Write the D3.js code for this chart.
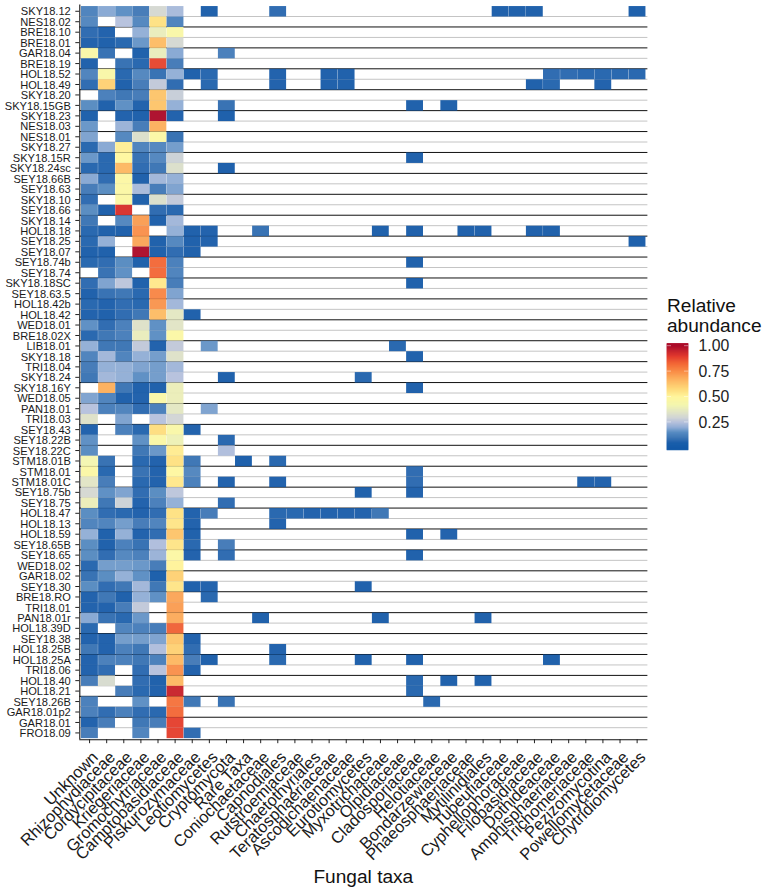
<!DOCTYPE html>
<html><head><meta charset="utf-8">
<script src="https://cdn.jsdelivr.net/npm/d3@7"></script>
<style>html,body{margin:0;padding:0;background:#fff}svg{display:block}text{font-family:"Liberation Sans",Arial,sans-serif}</style>
</head><body><svg id="c" width="767" height="892"></svg>
<script>
const samples=["SKY18.12","NES18.02","BRE18.10","BRE18.01","GAR18.04","BRE18.19","HOL18.52","HOL18.49","SKY18.20","SKY18.15GB","SKY18.23","NES18.03","NES18.01","SKY18.27","SKY18.15R","SKY18.24sc","SEY18.66B","SEY18.63","SKY18.10","SEY18.66","SKY18.14","HOL18.18","SEY18.25","SEY18.07","SEY18.74b","SEY18.74","SKY18.18SC","SEY18.63.5","HOL18.42b","HOL18.42","WED18.01","BRE18.02X","LIB18.01","SKY18.18","TRI18.04","SKY18.24","SKY18.16Y","WED18.05","PAN18.01","TRI18.03","SEY18.43","SEY18.22B","SEY18.22C","STM18.01B","STM18.01","STM18.01C","SEY18.75b","SEY18.75","HOL18.47","HOL18.13","HOL18.59","SEY18.65B","SEY18.65","WED18.02","GAR18.02","SEY18.30","BRE18.RO","TRI18.01","PAN18.01r","HOL18.39D","SEY18.38","HOL18.25B","HOL18.25A","TRI18.06","HOL18.40","HOL18.21","SEY18.26B","GAR18.01p2","GAR18.01","FRO18.09"];
const taxa=["Unknown","Rhizophydiaceae","Cordycipitaceae","Kriegeriaceae","Gromochytriaceae","Camptobasidiaceae","Piskurozymaceae","Leotiomycetes","Cryptomycota","Rare Taxa","Coniochaetaceae","Capnodiales","Rutstroemiaceae","Chaetothyriales","Teratosphaeriaceae","Ascodichaenaceae","Eurotiomycetes","Myxotrichaceae","Olpidiaceae","Cladosporiaceae","Helotiaceae","Bondarzewiaceae","Phaeosphaeriaceae","Mytilinidiales","Tubeufiaceae","Cyphellophoraceae","Filobasidiaceae","Dothideaceae","Amphisphaeriaceae","Trichomeriaceae","Pezizomycotina","Powellomycetaceae","Chytridiomycetes"];
// first six taxa, one row per sample (null = absent)
const coreValues=[
[.12,.19,.15,.10,.31,.23],[.13,null,.25,.13,.56,.12],[.07,.05,null,.20,.38,.46],[.05,.04,.06,.16,.65,.31],[.46,.08,null,.04,.38,.19],
[.04,null,.08,.06,.88,.10],[.12,.46,.06,.13,.08,.20],[.07,.60,.04,.10,.27,.07],[null,.11,.09,.10,.63,.28],[.14,.04,.15,.05,.63,.20],
[.04,null,.05,.04,1.0,.05],[.16,null,.21,.10,.68,null],[.18,null,.13,.33,.47,.08],[.06,.19,.52,.12,.13,.17],[.16,.06,.50,.08,.13,.29],
[.06,.06,.66,.07,.09,.33],[.19,.07,.48,.04,.22,.20],[.10,.14,.47,.23,.10,.18],[.07,null,.47,.04,.33,.27],[.14,.04,.92,null,.07,.06],
[.09,null,.13,.72,.04,.22],[.06,.04,.04,.75,null,.20],[.06,.20,null,.70,.04,.13],[.04,.04,null,1.0,.04,.07],[.06,.07,.14,.04,.83,.11],
[null,.08,.15,null,.83,.12],[.07,.18,.26,.04,.54,.10],[.04,.08,.09,.06,.77,.18],[.06,.05,.07,.06,.74,.22],[.05,.04,.07,.09,.65,.36],
[.15,.07,.11,.34,.15,.35],[.06,.09,.11,.38,.15,.47],[.20,.09,.09,.27,.05,.27],[.12,.22,.12,.20,.17,.34],[.10,.20,.20,.18,.17,.22],
[.09,.22,.20,.15,.17,.25],[null,.68,.09,.04,.04,.39],[.18,.12,.04,.05,.46,.39],[.25,.11,.12,.07,.11,.36],[.34,null,.18,null,.25,.30],
[.05,null,.11,.06,.57,.46],[.15,null,null,.15,.47,.40],[.14,null,null,.09,.16,.53],[.42,.08,null,.06,.05,.56],[.47,.06,null,.08,.05,.49],
[.35,.10,null,.06,.05,.54],[.31,.15,.18,.07,.14,.26],[.39,.09,.29,.05,.11,.20],[.14,.07,.06,.05,.07,.56],[.12,.12,.17,.10,.12,.55],
[.20,.04,.20,.05,.07,.63],[.14,.04,.11,.08,.24,.55],[.14,.07,.13,.11,.21,.48],[.06,.17,.17,.16,.10,.51],[.08,.14,.20,.15,.03,.60],
[.14,.07,.09,.22,.09,.55],[.05,.09,.04,.20,.15,.70],[.05,.05,.10,.27,null,.72],[.19,.08,.06,.16,null,.69],[.06,null,.12,.11,.10,.84],
[.05,.05,.17,.17,.18,.63],[.09,.05,.11,.09,.24,.60],[.05,.11,.11,.09,.11,.66],[.05,.07,null,.07,.25,.75],[.10,.32,null,.07,.04,.66],
[null,null,.10,.06,.05,.95],[.11,null,null,.15,null,.81],[.11,.07,.11,.07,.06,.83],[.05,.10,null,.09,.10,.89],[.10,null,null,.12,null,.89]];
// remaining taxa: [sample, taxon index, value]
const rareCells=[
["SKY18.12",7,.04],["SKY18.12",11,.07],["SKY18.12",24,.04],["SKY18.12",25,.04],["SKY18.12",26,.04],["SKY18.12",32,.03],
["GAR18.04",8,.11],
["HOL18.52",6,.04],["HOL18.52",7,.06],["HOL18.52",11,.05],["HOL18.52",14,.04],["HOL18.52",15,.04],["HOL18.52",27,.07],["HOL18.52",28,.07],["HOL18.52",29,.06],["HOL18.52",30,.06],["HOL18.52",31,.06],["HOL18.52",32,.06],
["HOL18.49",7,.06],["HOL18.49",11,.05],["HOL18.49",14,.04],["HOL18.49",15,.04],["HOL18.49",26,.04],["HOL18.49",27,.06],["HOL18.49",30,.05],
["SKY18.15GB",8,.08],["SKY18.15GB",19,.04],["SKY18.15GB",21,.04],["SKY18.23",8,.03],["SKY18.15R",19,.04],["SKY18.24sc",8,.03],
["HOL18.18",6,.04],["HOL18.18",7,.05],["HOL18.18",10,.08],["HOL18.18",17,.04],["HOL18.18",19,.04],["HOL18.18",22,.04],["HOL18.18",23,.04],["HOL18.18",26,.04],["HOL18.18",27,.04],
["SEY18.25",6,.04],["SEY18.25",7,.05],["SEY18.25",32,.03],["SEY18.07",6,.04],["SEY18.74b",19,.04],["SKY18.18SC",19,.04],["HOL18.42",6,.04],
["LIB18.01",7,.16],["LIB18.01",18,.06],["SKY18.18",19,.04],["SKY18.24",8,.04],["SKY18.24",16,.06],["SKY18.16Y",19,.04],["PAN18.01",7,.18],
["SEY18.43",6,.05],["SEY18.22B",8,.06],["SEY18.22C",8,.24],["STM18.01B",6,.09],["STM18.01B",9,.03],["STM18.01B",11,.06],
["STM18.01",6,.13],["STM18.01",19,.07],["STM18.01C",6,.11],["STM18.01C",8,.05],["STM18.01C",11,.05],["STM18.01C",19,.07],["STM18.01C",29,.05],["STM18.01C",30,.05],
["SEY18.75b",16,.04],["SEY18.75b",19,.05],["SEY18.75",8,.07],
["HOL18.47",6,.05],["HOL18.47",7,.10],["HOL18.47",11,.06],["HOL18.47",12,.06],["HOL18.47",13,.05],["HOL18.47",14,.05],["HOL18.47",15,.05],["HOL18.47",16,.05],["HOL18.47",17,.09],
["HOL18.13",6,.05],["HOL18.13",11,.05],["HOL18.59",6,.04],["HOL18.59",19,.04],["HOL18.59",21,.05],["SEY18.65B",6,.06],["SEY18.65B",8,.10],
["SEY18.65",6,.05],["SEY18.65",8,.07],["SEY18.65",19,.04],["SEY18.30",6,.04],["SEY18.30",7,.05],["SEY18.30",16,.04],["BRE18.RO",7,.06],
["PAN18.01r",10,.04],["PAN18.01r",17,.04],["PAN18.01r",23,.04],["SEY18.38",6,.05],["HOL18.25B",6,.07],["HOL18.25B",11,.05],
["HOL18.25A",6,.10],["HOL18.25A",7,.04],["HOL18.25A",11,.06],["HOL18.25A",16,.04],["HOL18.25A",19,.04],["HOL18.25A",27,.04],
["TRI18.06",6,.05],["HOL18.40",19,.06],["HOL18.40",21,.04],["HOL18.40",23,.04],["HOL18.21",19,.06],
["SEY18.26B",6,.09],["SEY18.26B",8,.08],["SEY18.26B",20,.06],["FRO18.09",6,.07]];
const legendTicks=[.25,.5,.75,1];
const colorDomain=[0,.05,.10,.15,.20,.25,.30,.35,.42,.50,.58,.66,.75,.83,.90,1];
const colorRange=["#0550a3","#1056a6","#3872b3","#5288c0","#8caad4","#b2bedb","#cfd3d2","#dfe3c2","#f3f5ac","#fff69a","#fed772","#fdb45a","#f98a42","#f2612e","#e02f22","#a80020"];

const svg=d3.select("#c");
const x=d3.scaleBand().domain(taxa).range([79.3,647.4]).paddingInner(0).paddingOuter(.1);
const y=d3.scaleBand().domain(samples).range([5,739.2]).paddingInner(0).paddingOuter(.1);
const color=d3.scaleLinear().domain(colorDomain).range(colorRange).clamp(true);

const cells=[];
samples.forEach((s,i)=>coreValues[i].forEach((v,j)=>{if(v!==null)cells.push({s,t:taxa[j],v})}));
rareCells.forEach(([s,j,v])=>cells.push({s,t:taxa[j],v}));

// separators between rows: every second one black, others grey
svg.append("g").selectAll("line").data(samples.slice(0,-1)).join("line")
 .attr("x1",x.range()[0]).attr("x2",x.range()[1])
 .attr("y1",d=>y(d)+y.step()).attr("y2",d=>y(d)+y.step())
 .attr("stroke",(d,i)=>i%2?"#111":"#c4c4c4").attr("stroke-width",1);

svg.append("g").selectAll("rect").data(cells).join("rect")
 .attr("x",d=>x(d.t)).attr("y",d=>y(d.s))
 .attr("width",x.step()-.25).attr("height",y.step())
 .attr("fill",d=>color(d.v)).attr("fill-opacity",.92);

const gy=svg.append("g").attr("transform",`translate(${x.range()[0]},0)`)
 .call(d3.axisLeft(y).tickSize(4).tickPadding(4.5));
gy.selectAll("text").attr("font-size",11.1).attr("fill","#1a1a1a").attr("font-family","Liberation Sans").attr("dy","0.37em");
gy.select(".domain").attr("d",`M0.5,4.5V${y.range()[1]}`).attr("stroke","#111").attr("stroke-width",1.1);
gy.selectAll(".tick line").attr("stroke","#222");

const gx=svg.append("g").attr("transform",`translate(0,${y.range()[1]})`)
 .call(d3.axisBottom(x).tickSize(4));
gx.select(".domain").attr("d",`M${x.range()[0]},0.5H${x.range()[1]}`).attr("stroke","#111").attr("stroke-width",1.1);
gx.selectAll(".tick line").attr("stroke","#222");
gx.selectAll(".tick text").attr("font-size",16.4).attr("fill","#1a1a1a").attr("font-family","Liberation Sans")
 .attr("text-anchor","end").attr("dy",0).attr("y",0)
 .attr("transform","translate(9.5,19) rotate(-45)");

svg.append("text").attr("x",(x.range()[0]+x.range()[1])/2).attr("y",883).attr("text-anchor","middle").attr("font-size",19.1).attr("fill","#111").text("Fungal taxa");

// legend
const lx=666.7,lw=21.6;
const ly=d3.scaleLinear().domain([0,1]).range([447.3,345.7]);
const lg=svg.append("g");
const legendSteps=d3.range(-.025,1.025,.005);
lg.selectAll("rect").data(legendSteps).join("rect")
 .attr("x",lx).attr("width",lw).attr("y",d=>ly(d+.005)).attr("height",ly(0)-ly(.005)+.4)
 .attr("fill",d=>color(d+.0025));
const leg=lg.selectAll("g.t").data(legendTicks).join("g").attr("class","t");
leg.append("line").attr("x1",lx).attr("x2",lx+4.3).attr("y1",d=>ly(d)).attr("y2",d=>ly(d)).attr("stroke","#fff").attr("stroke-opacity",.75).attr("stroke-width",.6);
leg.append("line").attr("x1",lx+lw-4.3).attr("x2",lx+lw).attr("y1",d=>ly(d)).attr("y2",d=>ly(d)).attr("stroke","#fff").attr("stroke-opacity",.75).attr("stroke-width",.6);
leg.append("text").attr("x",698.5).attr("y",d=>ly(d)+5.6).attr("font-size",15.8).attr("fill","#222").text(d=>d.toFixed(2));
svg.append("text").attr("x",667).attr("y",311.5).attr("font-size",19.1).attr("fill","#111").text("Relative");
svg.append("text").attr("x",667).attr("y",331.5).attr("font-size",19.1).attr("fill","#111").text("abundance");
</script></body></html>
